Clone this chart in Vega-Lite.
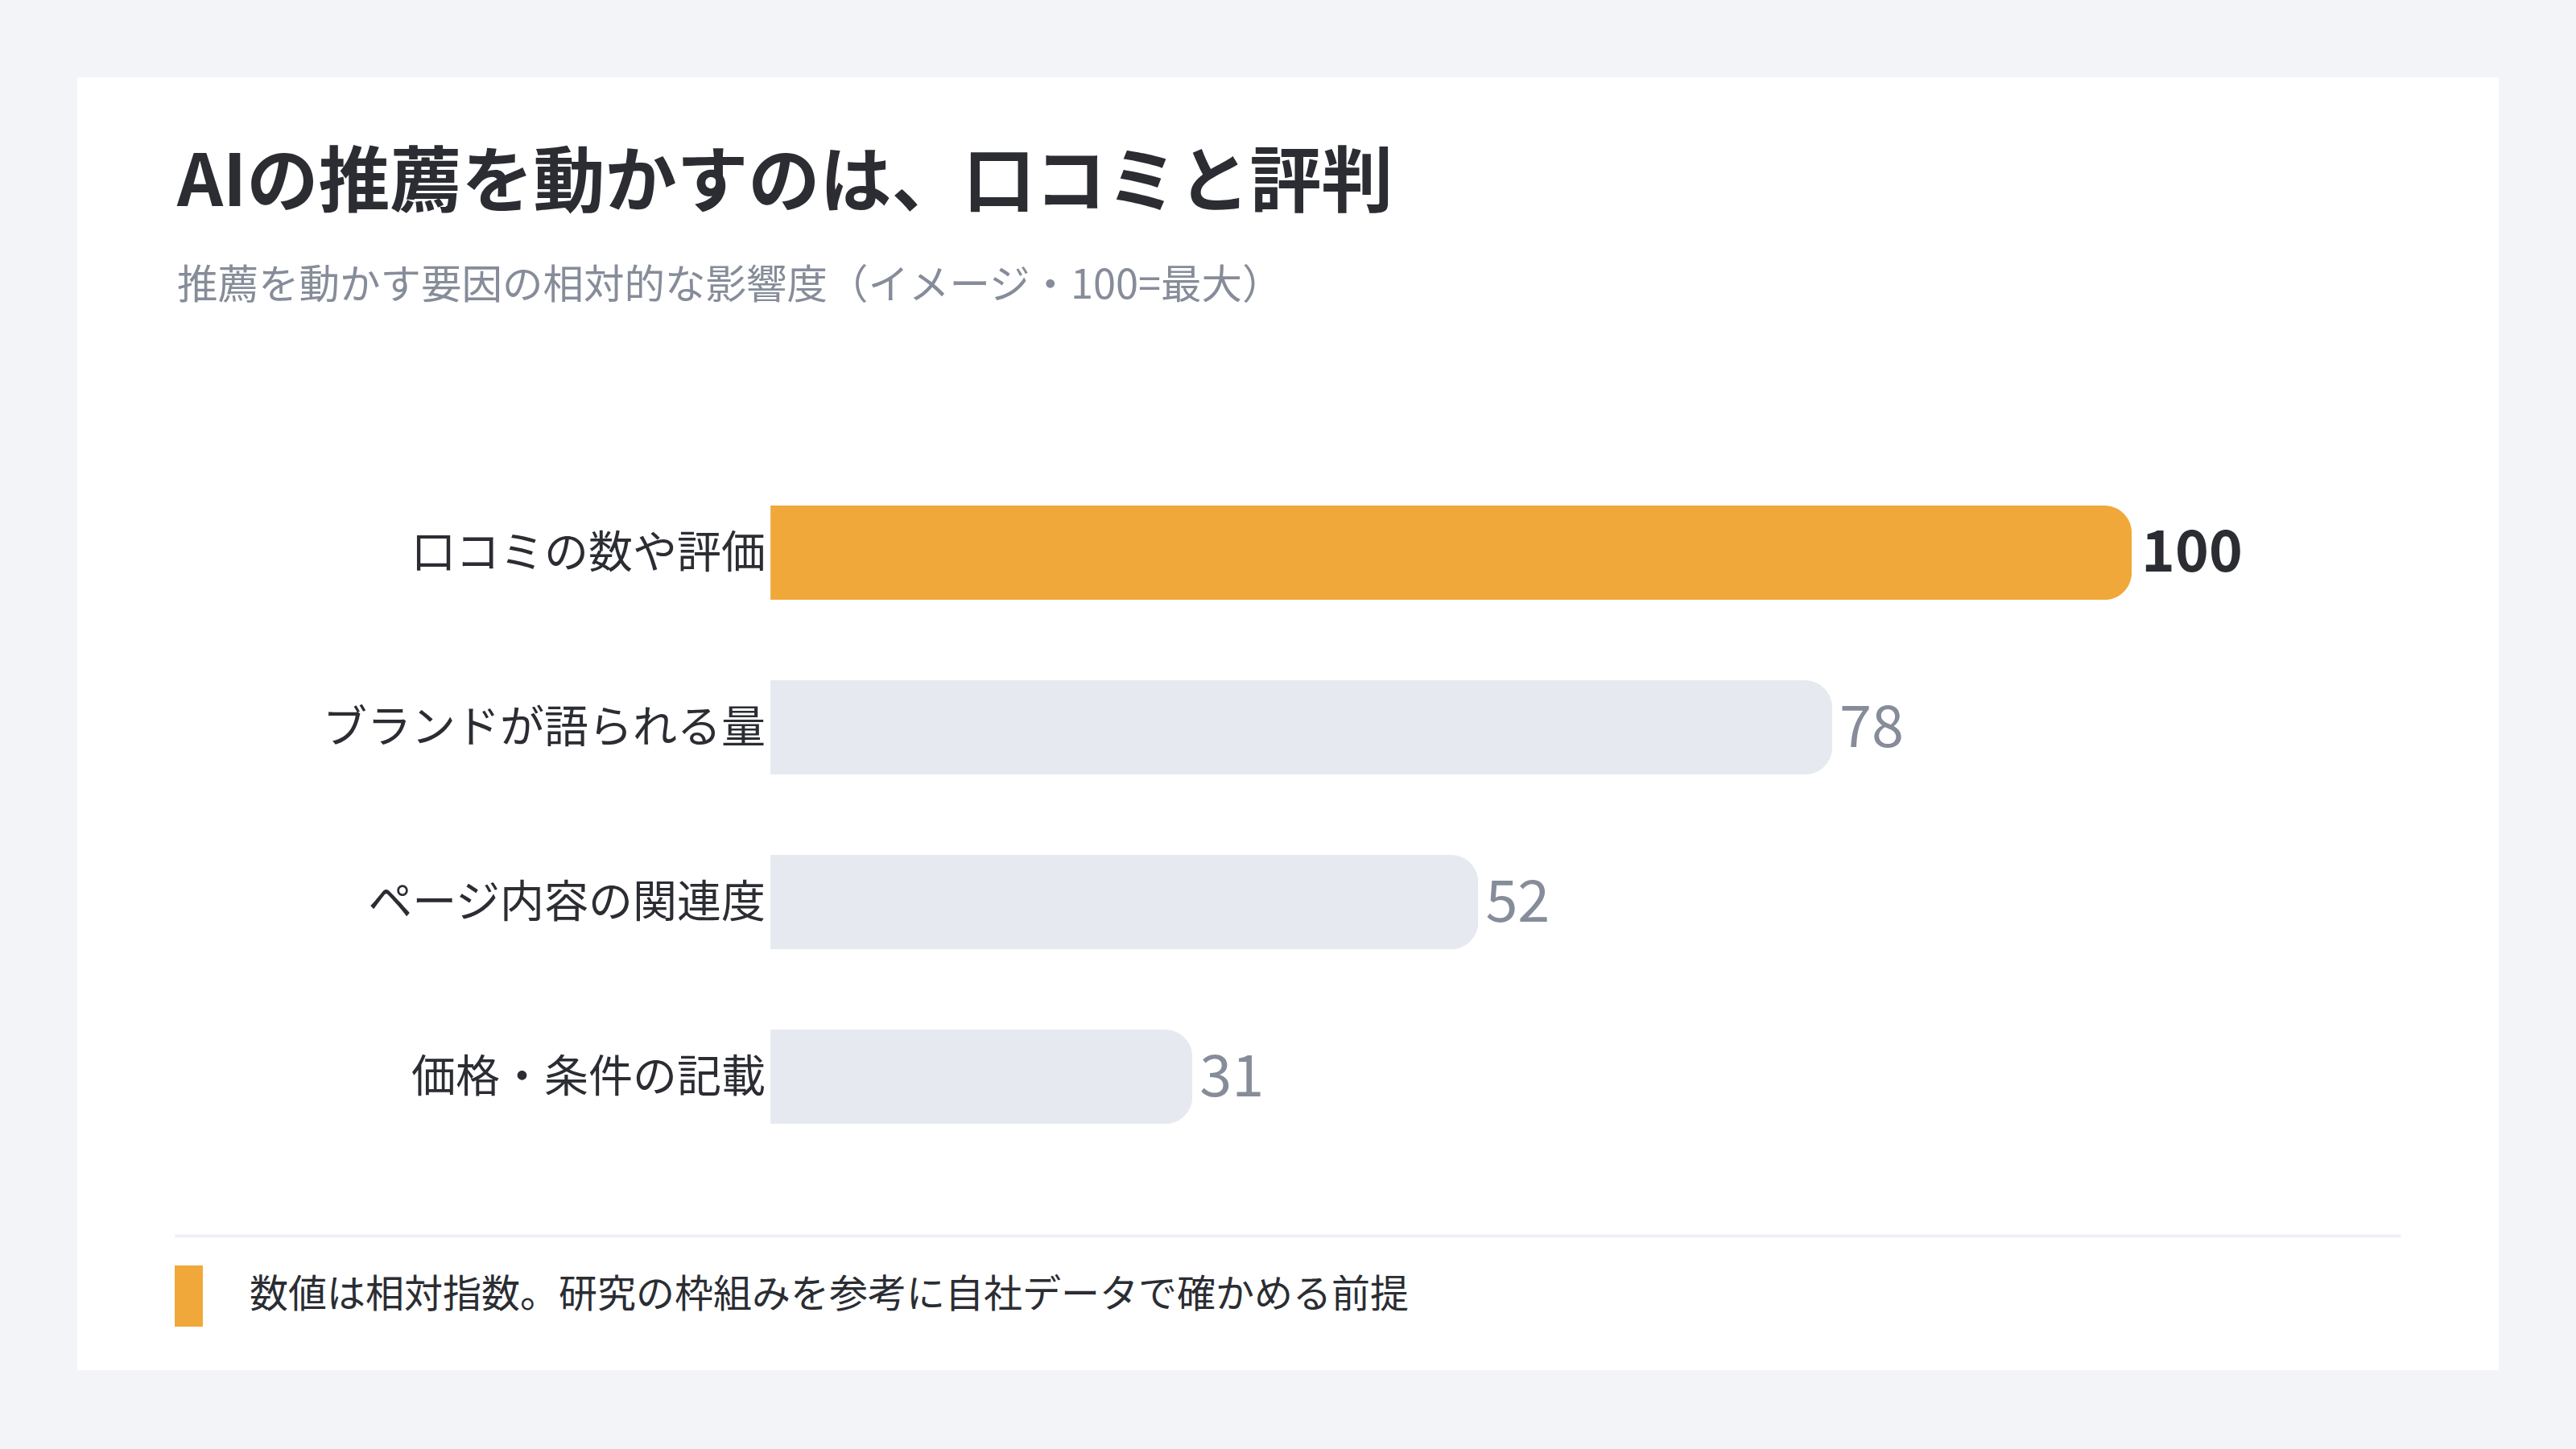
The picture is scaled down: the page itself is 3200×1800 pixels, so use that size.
{
  "$schema": "https://vega.github.io/schema/vega-lite/v6.json",
  "autosize": {"type": "none"},
  "padding": {"left": 96, "top": 96, "right": 96, "bottom": 98},
  "width": 3008,
  "height": 1606,
  "background": "#f3f4f8",
  "view": {"fill": "#ffffff", "stroke": null},
  "title": {
    "text": "AIの推薦を動かすのは、口コミと評判",
    "subtitle": "推薦を動かす要因の相対的な影響度（イメージ・100=最大）",
    "anchor": "start",
    "frame": "group",
    "orient": "top",
    "dx": 124,
    "offset": -286,
    "font": "Noto Sans CJK JP",
    "fontSize": 89,
    "fontWeight": 700,
    "color": "#2b2d33",
    "subtitleFont": "Noto Sans CJK JP",
    "subtitleFontSize": 50.5,
    "subtitleColor": "#868c99",
    "subtitlePadding": 56
  },
  "datasets": {
    "factors": [
      {"factor": "口コミの数や評価", "score": 100},
      {"factor": "ブランドが語られる量", "score": 78},
      {"factor": "ページ内容の関連度", "score": 52},
      {"factor": "価格・条件の記載", "score": 31}
    ],
    "notes": [
      {"note": "数値は相対指数。研究の枠組みを参考に自社データで確かめる前提"}
    ]
  },
  "layer": [
    {
      "data": {"name": "factors"},
      "mark": {"type": "bar", "cornerRadiusEnd": 34},
      "encoding": {
        "x": {
          "field": "score",
          "type": "quantitative",
          "scale": {"domain": [-50.92, 126.96], "nice": false, "zero": false},
          "axis": {
            "title": null,
            "labels": false,
            "ticks": false,
            "grid": false,
            "domain": true,
            "domainColor": "#edf0f4",
            "domainWidth": 4,
            "domainCap": "butt",
            "domainDash": [0, 121, 2765, 400],
            "offset": -167
          }
        },
        "y": {
          "field": "factor",
          "type": "nominal",
          "sort": null,
          "scale": {"range": [532, 1300.2], "paddingInner": 0.46, "paddingOuter": 0, "round": false},
          "axis": null
        },
        "color": {
          "condition": {"test": "datum.score === 100", "value": "#f0a83b"},
          "value": "#e6e9f0"
        }
      }
    },
    {
      "data": {"name": "factors"},
      "mark": {
        "type": "text",
        "align": "right",
        "baseline": "middle",
        "dx": -6,
        "dy": 1,
        "font": "Noto Sans CJK JP",
        "fontSize": 55,
        "color": "#2b2d33"
      },
      "encoding": {
        "x": {"datum": 0, "type": "quantitative"},
        "y": {"field": "factor", "type": "nominal", "sort": null},
        "text": {"field": "factor"}
      }
    },
    {
      "data": {"name": "factors"},
      "transform": [{"filter": "datum.score === 100"}],
      "mark": {
        "type": "text",
        "align": "left",
        "baseline": "middle",
        "dx": 12,
        "dy": 2,
        "font": "Noto Sans CJK JP",
        "fontSize": 71,
        "fontWeight": 700,
        "color": "#2b2d33"
      },
      "encoding": {
        "x": {"field": "score", "type": "quantitative"},
        "y": {"field": "factor", "type": "nominal", "sort": null},
        "text": {"field": "score"}
      }
    },
    {
      "data": {"name": "factors"},
      "transform": [{"filter": "datum.score < 100"}],
      "mark": {
        "type": "text",
        "align": "left",
        "baseline": "middle",
        "dx": 9,
        "dy": 2,
        "font": "Noto Sans CJK JP",
        "fontSize": 72,
        "color": "#868c99"
      },
      "encoding": {
        "x": {"field": "score", "type": "quantitative"},
        "y": {"field": "factor", "type": "nominal", "sort": null},
        "text": {"field": "score"}
      }
    },
    {
      "data": {"name": "notes"},
      "mark": {"type": "point", "filled": true, "opacity": 0},
      "encoding": {
        "color": {
          "field": "note",
          "type": "nominal",
          "scale": {"range": ["#f0a83b"]},
          "legend": {
            "title": null,
            "orient": "none",
            "legendX": 100.5,
            "legendY": 1476,
            "padding": 0,
            "symbolType": "M-0.46,-1H0.46V1H-0.46Z",
            "symbolSize": 5776,
            "symbolStrokeWidth": 0,
            "symbolOpacity": 1,
            "labelFont": "Noto Sans CJK JP",
            "labelFontSize": 48,
            "labelColor": "#2b2d33",
            "labelOffset": 37.5,
            "labelLimit": 0,
            "labelBaseline": "middle",
            "encode": {"symbols": {"update": {"opacity": {"value": 1}}}}
          }
        }
      }
    }
  ]
}
